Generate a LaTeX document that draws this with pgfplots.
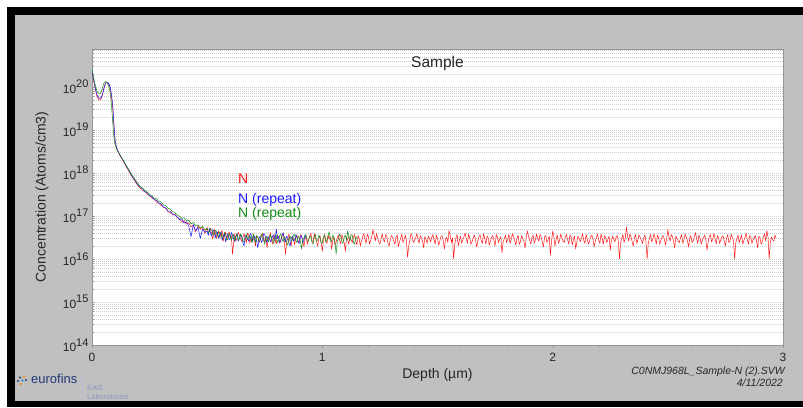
\documentclass[border=0pt]{standalone}
\usepackage{fontspec}
\setmainfont{Liberation Sans}
\usepackage{pgfplots}
\pgfplotsset{compat=1.18}

\definecolor{framegray}{RGB}{192,192,192}
\definecolor{axisgray}{RGB}{150,150,150}
\definecolor{gridgray}{RGB}{205,205,205}
\definecolor{nred}{RGB}{255,25,25}
\definecolor{nblue}{RGB}{25,25,255}
\definecolor{ngreen}{RGB}{20,140,20}
\definecolor{eurofblue}{RGB}{35,55,120}
\definecolor{eaggray}{RGB}{140,150,195}

% decade label, superscript nearly as large as the base
\newcommand{\dec}[1]{10\raisebox{0.45em}{\fontsize{11}{11}\selectfont #1}}

\begin{document}
\begin{tikzpicture}
\useasboundingbox (0pt,0pt) rectangle (803pt,407pt);
\fill[white] (0pt,0pt) rectangle (803pt,407pt);
\fill[black] (7pt,0pt) rectangle (803pt,400pt);
\fill[framegray] (15pt,6pt) rectangle (803pt,392pt);

\begin{axis}[
    at={(92pt,62pt)}, anchor=south west,
    width=691pt, height=296pt, scale only axis,
    ymode=log,
    xmin=0, xmax=3,
    ymin=1e14, ymax=7.6e20,
    axis background/.style={fill=white},
    axis line style={draw=axisgray, line width=0.8pt},
    tick pos=left,
    xtick={0,1,2,3},
    minor xtick={0.2,0.4,0.6,0.8,1.2,1.4,1.6,1.8,2.2,2.4,2.6,2.8},
    xtick align=outside,
    ytick={1e14,1e15,1e16,1e17,1e18,1e19,1e20},
    yticklabels={\dec{14},\dec{15},\dec{16},\dec{17},\dec{18},\dec{19},\dec{20}},
    minor ytick={2e14,3e14,4e14,5e14,6e14,7e14,8e14,9e14,
                 2e15,3e15,4e15,5e15,6e15,7e15,8e15,9e15,
                 2e16,3e16,4e16,5e16,6e16,7e16,8e16,9e16,
                 2e17,3e17,4e17,5e17,6e17,7e17,8e17,9e17,
                 2e18,3e18,4e18,5e18,6e18,7e18,8e18,9e18,
                 2e19,3e19,4e19,5e19,6e19,7e19,8e19,9e19,
                 2e20,3e20,4e20,5e20,6e20,7e20},
    ytick align=inside,
    major tick length=3pt, minor tick length=2pt,
    tick style={draw=axisgray},
    ymajorgrids, yminorgrids,
    major grid style={draw=gridgray, dash pattern=on 1pt off 1pt, line width=0.5pt},
    minor grid style={draw=gridgray, dash pattern=on 1pt off 1pt, line width=0.5pt},
    tick label style={font=\fontsize{12}{14}\selectfont, text=black!85},
    xticklabel style={yshift=-2pt},
    /pgf/number format/assume math mode=true,
    xlabel={Depth (µm)},
    ylabel={Concentration (Atoms/cm3)},
    xlabel style={at={(axis description cs:0.5,-0.101)}, anchor=center, font=\fontsize{14}{16}\selectfont, text=black!85},
    ylabel style={at={(axis description cs:-0.0724,0.5)}, anchor=center, font=\fontsize{14}{16}\selectfont, text=black!85},
    title={Sample},
    title style={at={(axis description cs:0.5,0.932)}, anchor=center, font=\fontsize{15.5}{17}\selectfont, text=black!85},
    every axis plot/.append style={no markers, line width=0.5pt, line join=round},
]

% N
\addplot[nred] table[row sep=\\] {
0 2.3e20\\ 0.005 1.6e20\\ 0.01 1.15e20\\ 0.015 8.5e19\\ 0.02 6.5e19\\ 0.025 5.5e19\\ 0.03 5.0e19\\ 0.035 5.0e19\\
0.04 5.3e19\\ 0.045 6.3e19\\ 0.05 8.5e19\\ 0.055 1.1e20\\ 0.06 1.25e20\\ 0.065 1.28e20\\ 0.07 1.22e20\\ 0.075 1.1e20\\
0.08 8.8e19\\ 0.085 5.5e19\\ 0.09 3.2e19\\ 0.095 1.2e19\\ 0.1 5.5e18\\ 0.105 4.0e18\\ 0.11 3.3e18\\
0.12 2.6e18\\ 0.13 2.1e18\\ 0.14 1.7e18\\ 0.15 1.35e18\\ 0.16 1.1e18\\ 0.17 8.8e17\\ 0.18 7.3e17\\ 0.19 6.0e17\\
0.20 5.0e17\\ 0.21 4.4e17\\ 0.22 3.9e17\\ 0.23 3.7e17\\ 0.24 3.2e17\\ 0.25 3.0e17\\ 0.26 2.6e17\\ 0.27 2.5e17\\
0.28 2.1e17\\ 0.29 2.0e17\\ 0.30 1.75e17\\ 0.31 1.6e17\\ 0.32 1.5e17\\ 0.33 1.25e17\\ 0.34 1.2e17\\ 0.35 1.05e17\\
0.36 1.1e17\\ 0.37 9.0e16\\ 0.38 8.6e16\\ 0.39 7.2e16\\ 0.40 7.8e16\\ 0.41 6.5e16\\ 0.42 6.9e16\\ 0.43 5.6e16\\
0.44 6.1e16\\ 0.45 4.2e16\\ 0.46 5.8e16\\ 0.47 4.9e16\\ 0.48 5.5e16\\ 0.49 3.9e16\\
0.50 5.4e16\\ 0.505 3.9e16\\ 0.51 4.6e16\\ 0.515 5.2e16\\ 0.52 3.6e16\\ 0.525 2.9e16\\ 0.53 5.0e16\\ 0.535 4.2e16\\
0.54 3.0e16\\ 0.545 3.8e16\\ 0.55 4.5e16\\ 0.555 3.1e16\\ 0.56 4.0e16\\ 0.565 4.6e16\\ 0.57 2.6e16\\ 0.575 3.4e16\\
0.58 4.2e16\\ 0.585 2.7e16\\ 0.59 3.6e16\\ 0.595 4.3e16\\ 0.60 3.1e16\\ 0.605 3.5e16\\ 0.61 1.3e16\\ 0.615 2.4e16\\
0.62 3.9e16\\ 0.625 2.6e16\\ 0.63 3.1e16\\ 0.635 4.2e16\\ 0.64 3.6e16\\ 0.645 2.9e16\\ 0.65 2.6e16\\ 0.655 3.2e16\\
0.66 3.9e16\\ 0.665 3.1e16\\ 0.67 2.4e16\\ 0.675 4.0e16\\ 0.68 3.6e16\\ 0.685 2.3e16\\ 0.69 3.0e16\\ 0.695 2.6e16\\
0.70 3.6e16\\ 0.705 2.9e16\\ 0.71 2.0e16\\ 0.715 3.5e16\\ 0.72 3.2e16\\ 0.725 2.4e16\\ 0.73 2.7e16\\ 0.735 3.3e16\\
0.74 3.9e16\\ 0.745 3.0e16\\ 0.75 2.5e16\\ 0.755 3.4e16\\ 0.76 1.8e16\\ 0.765 2.7e16\\ 0.77 3.3e16\\ 0.775 4.1e16\\
0.78 2.6e16\\ 0.785 2.2e16\\ 0.79 3.7e16\\ 0.795 2.9e16\\ 0.80 2.2e16\\ 0.805 3.6e16\\ 0.81 3.1e16\\ 0.815 2.3e16\\
0.82 2.8e16\\ 0.825 3.4e16\\ 0.83 3.9e16\\ 0.835 2.6e16\\ 0.84 1.3e16\\ 0.845 2.5e16\\ 0.85 3.0e16\\ 0.855 3.8e16\\
0.86 2.5e16\\ 0.865 2.0e16\\ 0.87 3.4e16\\ 0.875 2.9e16\\ 0.88 2.1e16\\ 0.885 3.2e16\\ 0.89 3.6e16\\ 0.895 2.4e16\\
0.90 2.7e16\\ 0.905 3.7e16\\ 0.91 3.3e16\\ 0.915 2.8e16\\ 0.92 1.9e16\\ 0.925 2.9e16\\ 0.93 3.2e16\\ 0.935 2.2e16\\
0.94 2.8e16\\ 0.945 3.3e16\\ 0.95 4.0e16\\ 0.955 2.7e16\\ 0.96 2.4e16\\ 0.965 3.9e16\\ 0.97 3.1e16\\ 0.975 2.5e16\\
0.98 2.0e16\\ 0.985 3.0e16\\ 0.99 3.5e16\\ 0.995 2.4e16\\ 1.00 1.5e16\\ 1.005 2.8e16\\ 1.01 3.8e16\\ 1.015 2.6e16\\
1.02 2.3e16\\ 1.025 3.6e16\\ 1.03 2.9e16\\ 1.035 3.3e16\\ 1.04 1.7e16\\ 1.045 2.6e16\\ 1.05 3.2e16\\ 1.055 2.1e16\\
1.06 2.5e16\\ 1.065 3.1e16\\ 1.07 3.6e16\\ 1.075 2.7e16\\ 1.08 2.2e16\\ 1.085 3.7e16\\ 1.09 3.0e16\\ 1.095 2.4e16\\
1.10 1.5e16\\ 1.105 3.2e16\\ 1.11 2.8e16\\ 1.115 2.2e16\\ 1.12 3.4e16\\ 1.125 2.8e16\\ 1.13 2.4e16\\ 1.135 3.2e16\\
1.14 3.7e16\\ 1.145 2.6e16\\ 1.15 2.1e16\\ 1.155 3.5e16\\ 1.16 3.0e16\\ 1.165 2.0e16\\ 1.17 2.6e16\\ 1.175 3.3e16\\
1.18 3.9e16\\ 1.185 2.9e16\\ 1.19 2.3e16\\ 1.195 3.8e16\\ 1.20 3.3e16\\ 1.205 2.2e16\\ 1.21 2.7e16\\ 1.215 3.4e16\\
1.22 4.8e16\\ 1.225 3.5e16\\ 1.23 2.6e16\\ 1.235 3.9e16\\ 1.24 3.1e16\\ 1.245 2.5e16\\ 1.25 2.2e16\\ 1.255 3.0e16\\
1.26 3.8e16\\ 1.265 2.8e16\\ 1.27 2.5e16\\ 1.275 3.7e16\\ 1.28 3.4e16\\ 1.285 2.3e16\\ 1.29 2.0e16\\ 1.295 2.9e16\\
1.30 3.5e16\\ 1.305 3.2e16\\ 1.31 2.6e16\\ 1.315 2.2e16\\ 1.32 3.2e16\\ 1.325 3.6e16\\ 1.33 1.9e16\\ 1.335 2.5e16\\
1.34 3.0e16\\ 1.345 3.8e16\\ 1.35 2.4e16\\ 1.355 2.9e16\\ 1.36 3.6e16\\ 1.365 2.7e16\\ 1.37 1.1e16\\ 1.375 2.0e16\\
1.38 2.8e16\\ 1.385 3.9e16\\ 1.39 3.3e16\\ 1.395 2.4e16\\ 1.40 2.7e16\\ 1.405 3.1e16\\ 1.41 3.9e16\\ 1.415 2.9e16\\
1.42 2.3e16\\ 1.425 3.5e16\\ 1.43 3.1e16\\ 1.435 2.6e16\\ 1.44 1.8e16\\ 1.445 3.3e16\\ 1.45 2.9e16\\ 1.455 2.3e16\\
1.46 3.4e16\\ 1.465 3.0e16\\ 1.47 2.5e16\\ 1.475 3.2e16\\ 1.48 3.7e16\\ 1.485 2.8e16\\ 1.49 2.2e16\\ 1.495 3.6e16\\
1.50 3.0e16\\ 1.505 2.1e16\\ 1.51 2.6e16\\ 1.515 3.3e16\\ 1.52 3.5e16\\ 1.525 2.7e16\\ 1.53 1.7e16\\ 1.535 2.9e16\\
1.54 3.2e16\\ 1.545 2.4e16\\ 1.55 4.6e16\\ 1.555 3.6e16\\ 1.56 2.4e16\\ 1.565 3.1e16\\ 1.57 1.0e16\\ 1.575 2.2e16\\
1.58 3.1e16\\ 1.585 3.7e16\\ 1.59 2.0e16\\ 1.595 2.7e16\\ 1.60 3.4e16\\ 1.605 2.3e16\\ 1.61 2.8e16\\ 1.615 3.3e16\\
1.62 4.0e16\\ 1.625 3.0e16\\ 1.63 2.3e16\\ 1.635 3.8e16\\ 1.64 3.0e16\\ 1.645 2.2e16\\ 1.65 2.5e16\\ 1.655 3.1e16\\
1.66 3.6e16\\ 1.665 2.8e16\\ 1.67 1.9e16\\ 1.675 2.6e16\\ 1.68 3.3e16\\ 1.685 3.6e16\\ 1.69 2.7e16\\ 1.695 2.3e16\\
1.70 3.9e16\\ 1.705 3.0e16\\ 1.71 2.2e16\\ 1.715 3.4e16\\ 1.72 3.1e16\\ 1.725 2.1e16\\ 1.73 2.6e16\\ 1.735 3.2e16\\
1.74 3.5e16\\ 1.745 2.7e16\\ 1.75 2.0e16\\ 1.755 3.7e16\\ 1.76 3.2e16\\ 1.765 2.4e16\\ 1.77 2.9e16\\ 1.775 3.3e16\\
1.78 1.4e16\\ 1.785 2.5e16\\ 1.79 3.0e16\\ 1.795 3.6e16\\ 1.80 2.4e16\\ 1.805 2.9e16\\ 1.81 3.7e16\\ 1.815 2.3e16\\
1.82 2.8e16\\ 1.825 3.9e16\\ 1.83 3.3e16\\ 1.835 2.7e16\\ 1.84 2.1e16\\ 1.845 3.0e16\\ 1.85 3.6e16\\ 1.855 2.2e16\\
1.86 2.5e16\\ 1.865 3.5e16\\ 1.87 3.0e16\\ 1.875 2.6e16\\ 1.88 1.8e16\\ 1.885 3.1e16\\ 1.89 4.5e16\\ 1.895 3.4e16\\
1.90 2.7e16\\ 1.905 2.2e16\\ 1.91 3.1e16\\ 1.915 3.6e16\\ 1.92 2.3e16\\ 1.925 2.8e16\\ 1.93 3.8e16\\ 1.935 3.0e16\\
1.94 2.6e16\\ 1.945 3.7e16\\ 1.95 3.2e16\\ 1.955 2.5e16\\ 1.96 1.9e16\\ 1.965 3.3e16\\ 1.97 3.5e16\\ 1.975 2.4e16\\
1.98 2.8e16\\ 1.985 3.4e16\\ 1.99 1.2e16\\ 1.995 2.6e16\\ 2.00 4.4e16\\ 2.005 3.3e16\\ 2.01 2.0e16\\ 2.015 2.9e16\\
2.02 3.6e16\\ 2.025 2.3e16\\ 2.03 2.7e16\\ 2.035 3.8e16\\ 2.04 3.1e16\\ 2.045 2.6e16\\ 2.05 2.4e16\\ 2.055 3.2e16\\
2.06 3.7e16\\ 2.065 2.8e16\\ 2.07 2.2e16\\ 2.075 3.6e16\\ 2.08 3.3e16\\ 2.085 2.1e16\\ 2.09 2.8e16\\ 2.095 3.4e16\\
2.10 1.7e16\\ 2.105 2.5e16\\ 2.11 3.4e16\\ 2.115 3.0e16\\ 2.12 2.5e16\\ 2.125 3.1e16\\ 2.13 3.9e16\\ 2.135 2.7e16\\
2.14 2.3e16\\ 2.145 3.7e16\\ 2.15 3.0e16\\ 2.155 2.2e16\\ 2.16 2.6e16\\ 2.165 3.3e16\\ 2.17 3.6e16\\ 2.175 2.9e16\\
2.18 1.9e16\\ 2.185 2.6e16\\ 2.19 3.2e16\\ 2.195 3.8e16\\ 2.20 2.7e16\\ 2.205 2.3e16\\ 2.21 3.8e16\\ 2.215 3.0e16\\
2.22 2.2e16\\ 2.225 3.5e16\\ 2.23 3.1e16\\ 2.235 2.4e16\\ 2.24 2.9e16\\ 2.245 3.4e16\\ 2.25 1.6e16\\ 2.255 2.7e16\\
2.26 3.4e16\\ 2.265 2.9e16\\ 2.27 2.5e16\\ 2.275 3.2e16\\ 2.28 3.5e16\\ 2.285 2.6e16\\ 2.29 1.0e16\\ 2.295 2.4e16\\
2.30 3.0e16\\ 2.305 3.7e16\\ 2.31 2.4e16\\ 2.315 3.0e16\\ 2.32 5.5e16\\ 2.325 3.4e16\\ 2.33 2.6e16\\ 2.335 3.8e16\\
2.34 3.3e16\\ 2.345 2.5e16\\ 2.35 2.0e16\\ 2.355 3.1e16\\ 2.36 3.7e16\\ 2.365 2.3e16\\ 2.37 2.8e16\\ 2.375 3.6e16\\
2.38 3.2e16\\ 2.385 2.7e16\\ 2.39 2.3e16\\ 2.395 3.0e16\\ 2.40 3.6e16\\ 2.405 2.6e16\\ 2.41 1.0e16\\ 2.415 2.3e16\\
2.42 3.0e16\\ 2.425 3.7e16\\ 2.43 2.5e16\\ 2.435 2.9e16\\ 2.44 3.9e16\\ 2.445 3.0e16\\ 2.45 2.2e16\\ 2.455 3.6e16\\
2.46 3.1e16\\ 2.465 2.2e16\\ 2.47 2.7e16\\ 2.475 3.3e16\\ 2.48 3.5e16\\ 2.485 2.8e16\\ 2.49 2.1e16\\ 2.495 3.0e16\\
2.50 4.8e16\\ 2.505 3.2e16\\ 2.51 2.6e16\\ 2.515 3.7e16\\ 2.52 3.3e16\\ 2.525 2.5e16\\ 2.53 1.8e16\\ 2.535 3.4e16\\
2.54 3.0e16\\ 2.545 2.6e16\\ 2.55 2.4e16\\ 2.555 3.1e16\\ 2.56 3.7e16\\ 2.565 2.3e16\\ 2.57 2.8e16\\ 2.575 3.8e16\\
2.58 3.2e16\\ 2.585 2.7e16\\ 2.59 1.9e16\\ 2.595 3.0e16\\ 2.60 3.5e16\\ 2.605 2.4e16\\ 2.61 2.6e16\\ 2.615 3.3e16\\
2.62 4.1e16\\ 2.625 2.9e16\\ 2.63 2.3e16\\ 2.635 3.6e16\\ 2.64 3.0e16\\ 2.645 2.2e16\\ 2.65 2.7e16\\ 2.655 3.2e16\\
2.66 3.6e16\\ 2.665 2.8e16\\ 2.67 1.6e16\\ 2.675 2.5e16\\ 2.68 3.3e16\\ 2.685 3.7e16\\ 2.69 2.5e16\\ 2.695 2.9e16\\
2.70 3.9e16\\ 2.705 3.0e16\\ 2.71 2.2e16\\ 2.715 3.5e16\\ 2.72 3.1e16\\ 2.725 2.3e16\\ 2.73 2.8e16\\ 2.735 3.3e16\\
2.74 3.4e16\\ 2.745 2.6e16\\ 2.75 2.0e16\\ 2.755 3.1e16\\ 2.76 3.7e16\\ 2.765 2.4e16\\ 2.77 2.6e16\\ 2.775 3.8e16\\
2.78 3.2e16\\ 2.785 2.7e16\\ 2.79 1.0e16\\ 2.795 2.4e16\\ 2.80 3.0e16\\ 2.805 3.6e16\\ 2.81 2.4e16\\ 2.815 2.9e16\\
2.82 3.6e16\\ 2.825 2.2e16\\ 2.83 2.7e16\\ 2.835 3.2e16\\ 2.84 4.0e16\\ 2.845 2.8e16\\ 2.85 2.2e16\\ 2.855 3.5e16\\
2.86 3.3e16\\ 2.865 2.3e16\\ 2.87 2.8e16\\ 2.875 3.1e16\\ 2.88 3.5e16\\ 2.885 2.6e16\\ 2.89 1.8e16\\ 2.895 3.4e16\\
2.90 3.1e16\\ 2.905 2.2e16\\ 2.91 2.5e16\\ 2.915 3.3e16\\ 2.92 3.8e16\\ 2.925 2.6e16\\ 2.93 4.6e16\\ 2.935 3.2e16\\
2.94 1.0e16\\ 2.945 2.5e16\\ 2.95 3.2e16\\ 2.955 2.8e16\\ 2.96 2.6e16\\ 2.965 3.6e16\\ 2.97 3.0e16\\
};

% N (repeat), blue
\addplot[nblue] table[row sep=\\] {
0 2.4e20\\ 0.005 1.7e20\\ 0.01 1.2e20\\ 0.015 9.0e19\\ 0.02 7.0e19\\ 0.025 6.0e19\\ 0.03 5.5e19\\ 0.035 5.4e19\\
0.04 5.7e19\\ 0.045 6.6e19\\ 0.05 8.5e19\\ 0.055 1.05e20\\ 0.06 1.22e20\\ 0.065 1.3e20\\ 0.07 1.25e20\\ 0.075 1.15e20\\
0.08 9.5e19\\ 0.085 6.5e19\\ 0.09 3.8e19\\ 0.095 1.4e19\\ 0.1 6.0e18\\ 0.105 4.3e18\\ 0.11 3.5e18\\
0.12 2.7e18\\ 0.13 2.2e18\\ 0.14 1.75e18\\ 0.15 1.4e18\\ 0.16 1.15e18\\ 0.17 9.2e17\\ 0.18 7.6e17\\ 0.19 6.3e17\\
0.20 5.3e17\\ 0.21 4.5e17\\ 0.22 4.3e17\\ 0.23 3.6e17\\ 0.24 3.5e17\\ 0.25 2.9e17\\ 0.26 2.8e17\\ 0.27 2.4e17\\
0.28 2.3e17\\ 0.29 2.0e17\\ 0.30 1.9e17\\ 0.31 1.6e17\\ 0.32 1.55e17\\ 0.33 1.3e17\\ 0.34 1.3e17\\ 0.35 1.1e17\\
0.36 1.05e17\\ 0.37 9.5e16\\ 0.38 8.2e16\\ 0.39 8.5e16\\ 0.40 6.8e16\\ 0.41 7.3e16\\ 0.42 5.9e16\\ 0.43 3.3e16\\
0.44 6.3e16\\ 0.45 4.5e16\\ 0.46 5.5e16\\ 0.47 3.0e16\\ 0.48 4.9e16\\ 0.49 4.2e16\\
0.50 4.4e16\\ 0.505 3.5e16\\ 0.51 5.1e16\\ 0.515 3.8e16\\ 0.52 3.4e16\\ 0.525 4.7e16\\ 0.53 4.6e16\\ 0.535 3.1e16\\
0.54 3.8e16\\ 0.545 4.2e16\\ 0.55 3.0e16\\ 0.555 3.6e16\\ 0.56 4.3e16\\ 0.565 2.7e16\\ 0.57 3.4e16\\ 0.575 4.0e16\\
0.58 2.5e16\\ 0.585 3.2e16\\ 0.59 3.9e16\\ 0.595 2.8e16\\ 0.60 3.0e16\\ 0.605 4.1e16\\ 0.61 3.6e16\\ 0.615 2.9e16\\
0.62 2.5e16\\ 0.625 3.4e16\\ 0.63 3.9e16\\ 0.635 2.6e16\\ 0.64 3.0e16\\ 0.645 3.7e16\\ 0.65 3.2e16\\ 0.655 2.4e16\\
0.66 2.0e16\\ 0.665 3.1e16\\ 0.67 3.5e16\\ 0.675 2.9e16\\ 0.68 2.6e16\\ 0.685 3.6e16\\ 0.69 4.0e16\\ 0.695 2.5e16\\
0.70 2.8e16\\ 0.705 3.4e16\\ 0.71 3.1e16\\ 0.715 2.6e16\\ 0.72 1.8e16\\ 0.725 2.9e16\\ 0.73 3.4e16\\ 0.735 2.4e16\\
0.74 2.7e16\\ 0.745 3.9e16\\ 0.75 3.7e16\\ 0.755 2.8e16\\ 0.76 2.4e16\\ 0.765 3.3e16\\ 0.77 3.0e16\\ 0.775 2.5e16\\
0.78 2.9e16\\ 0.785 3.5e16\\ 0.79 3.6e16\\ 0.795 2.7e16\\ 0.80 5.0e16\\ 0.805 3.0e16\\ 0.81 3.3e16\\ 0.815 2.4e16\\
0.82 2.6e16\\ 0.825 3.6e16\\ 0.83 4.1e16\\ 0.835 2.9e16\\ 0.84 2.5e16\\ 0.845 3.4e16\\ 0.85 3.2e16\\ 0.855 2.3e16\\
0.86 2.0e16\\ 0.865 3.0e16\\ 0.87 3.4e16\\ 0.875 2.6e16\\ 0.88 2.8e16\\ 0.885 3.7e16\\ 0.89 3.1e16\\ 0.895 2.5e16\\
0.90 2.3e16\\ 0.905 3.2e16\\ 0.91 3.5e16\\ 0.915 2.4e16\\ 0.92 2.7e16\\ 0.925 3.6e16\\ 0.93 3.0e16\\
};

% N (repeat), green
\addplot[ngreen] table[row sep=\\] {
0 2.6e20\\ 0.005 1.9e20\\ 0.01 1.4e20\\ 0.015 1.05e20\\ 0.02 8.5e19\\ 0.025 7.4e19\\ 0.03 7.0e19\\ 0.035 7.0e19\\
0.04 7.6e19\\ 0.045 9.3e19\\ 0.05 1.15e20\\ 0.055 1.3e20\\ 0.06 1.32e20\\ 0.065 1.25e20\\ 0.07 1.12e20\\ 0.075 9.5e19\\
0.08 6.5e19\\ 0.085 3.5e19\\ 0.09 1.5e19\\ 0.095 7.0e18\\ 0.1 4.6e18\\ 0.105 3.8e18\\ 0.11 3.3e18\\
0.12 2.7e18\\ 0.13 2.2e18\\ 0.14 1.8e18\\ 0.15 1.45e18\\ 0.16 1.2e18\\ 0.17 9.6e17\\ 0.18 8.0e17\\ 0.19 6.6e17\\
0.20 5.6e17\\ 0.21 4.8e17\\ 0.22 4.4e17\\ 0.23 3.9e17\\ 0.24 3.6e17\\ 0.25 3.1e17\\ 0.26 3.0e17\\ 0.27 2.6e17\\
0.28 2.5e17\\ 0.29 2.2e17\\ 0.30 2.1e17\\ 0.31 1.8e17\\ 0.32 1.75e17\\ 0.33 1.5e17\\ 0.34 1.45e17\\ 0.35 1.25e17\\
0.36 1.2e17\\ 0.37 1.05e17\\ 0.38 9.8e16\\ 0.39 8.8e16\\ 0.40 9.0e16\\ 0.41 7.7e16\\ 0.42 7.9e16\\ 0.43 6.6e16\\
0.44 7.0e16\\ 0.45 5.9e16\\ 0.46 6.2e16\\ 0.47 5.3e16\\ 0.48 5.7e16\\ 0.49 4.7e16\\
0.50 5.2e16\\ 0.505 4.1e16\\ 0.51 4.3e16\\ 0.515 5.0e16\\ 0.52 4.9e16\\ 0.525 3.7e16\\ 0.53 3.6e16\\ 0.535 4.6e16\\
0.54 4.4e16\\ 0.545 3.4e16\\ 0.55 3.3e16\\ 0.555 4.2e16\\ 0.56 4.0e16\\ 0.565 3.0e16\\ 0.57 3.1e16\\ 0.575 4.1e16\\
0.58 3.8e16\\ 0.585 2.8e16\\ 0.59 2.9e16\\ 0.595 3.9e16\\ 0.60 3.6e16\\ 0.605 2.7e16\\ 0.61 3.2e16\\ 0.615 3.7e16\\
0.62 2.6e16\\ 0.625 3.3e16\\ 0.63 3.9e16\\ 0.635 2.7e16\\ 0.64 3.0e16\\ 0.645 3.8e16\\ 0.65 3.4e16\\ 0.655 2.6e16\\
0.66 2.5e16\\ 0.665 3.4e16\\ 0.67 3.7e16\\ 0.675 2.9e16\\ 0.68 3.1e16\\ 0.685 3.6e16\\ 0.69 2.8e16\\ 0.695 2.4e16\\
0.70 3.9e16\\ 0.705 3.0e16\\ 0.71 2.4e16\\ 0.715 3.5e16\\ 0.72 3.3e16\\ 0.725 2.6e16\\ 0.73 2.9e16\\ 0.735 3.8e16\\
0.74 3.6e16\\ 0.745 2.7e16\\ 0.75 2.2e16\\ 0.755 3.1e16\\ 0.76 3.4e16\\ 0.765 2.5e16\\ 0.77 2.8e16\\ 0.775 3.6e16\\
0.78 3.1e16\\ 0.785 2.6e16\\ 0.79 2.3e16\\ 0.795 3.2e16\\ 0.80 3.5e16\\ 0.805 2.4e16\\ 0.81 2.7e16\\ 0.815 3.5e16\\
0.82 3.8e16\\ 0.825 2.9e16\\ 0.83 2.5e16\\ 0.835 3.3e16\\ 0.84 3.0e16\\ 0.845 2.4e16\\ 0.85 2.1e16\\ 0.855 3.0e16\\
0.86 3.4e16\\ 0.865 2.6e16\\ 0.87 2.8e16\\ 0.875 3.7e16\\ 0.88 3.6e16\\ 0.885 2.7e16\\ 0.89 2.4e16\\ 0.895 3.4e16\\
0.90 3.2e16\\ 0.905 2.5e16\\ 0.91 1.7e16\\ 0.915 2.8e16\\ 0.92 3.0e16\\ 0.925 3.7e16\\ 0.93 3.5e16\\ 0.935 2.6e16\\
0.94 2.6e16\\ 0.945 3.5e16\\ 0.95 3.3e16\\ 0.955 2.4e16\\ 0.96 2.2e16\\ 0.965 3.2e16\\ 0.97 3.7e16\\ 0.975 2.6e16\\
0.98 2.8e16\\ 0.985 3.6e16\\ 0.99 3.1e16\\ 0.995 2.3e16\\ 1.00 2.4e16\\ 1.005 3.3e16\\ 1.01 3.6e16\\ 1.015 2.5e16\\
1.02 2.7e16\\ 1.025 3.5e16\\ 1.03 4.3e16\\ 1.035 2.8e16\\ 1.04 2.5e16\\ 1.045 3.6e16\\ 1.05 3.2e16\\ 1.055 2.4e16\\
1.06 1.3e16\\ 1.065 2.6e16\\ 1.07 2.9e16\\ 1.075 3.8e16\\ 1.08 3.4e16\\ 1.085 2.5e16\\ 1.09 2.3e16\\ 1.095 3.2e16\\
1.10 3.6e16\\ 1.105 2.7e16\\ 1.11 4.6e16\\ 1.115 3.0e16\\ 1.12 2.6e16\\ 1.125 3.7e16\\ 1.13 3.5e16\\ 1.135 2.4e16\\
1.14 2.2e16\\ 1.145 3.3e16\\ 1.15 3.0e16\\
};

\node[anchor=west, inner sep=0pt, text=nred, font=\fontsize{14}{16}\selectfont] at (axis cs:0.634,7.2e17) {N};
\node[anchor=west, inner sep=0pt, text=nblue, font=\fontsize{14}{16}\selectfont] at (axis cs:0.634,2.3e17) {N (repeat)};
\node[anchor=west, inner sep=0pt, text=ngreen, font=\fontsize{14}{16}\selectfont] at (axis cs:0.634,1.1e17) {N (repeat)};
\end{axis}

% footer
\node[anchor=east, inner sep=0pt, text=black!85, font=\fontsize{10.5}{12}\itshape\selectfont] at (785pt,35pt) {C0NMJ968L\_Sample-N (2).SVW};
\node[anchor=east, inner sep=0pt, text=black!85, font=\fontsize{10.5}{12}\itshape\selectfont] at (783pt,24.5pt) {4/11/2022};

% eurofins logo
\fill[eurofblue] (20pt,29.5pt) circle (1.2pt);
\fill[orange] (24pt,30.5pt) circle (1.2pt);
\fill[eurofblue] (18pt,26pt) circle (1.2pt);
\fill[cyan!70!blue] (22.5pt,26.5pt) circle (1.2pt);
\fill[eurofblue] (26pt,27pt) circle (1.2pt);
\fill[orange] (21pt,23pt) circle (1.2pt);
\node[anchor=west, inner sep=0pt, text=eurofblue, font=\fontsize{13}{14}\selectfont] at (31pt,28pt) {eurofins};
\draw[eaggray!60, line width=0.6pt] (82pt,9pt) -- (82pt,30pt);
\node[anchor=west, inner sep=0pt, text=eaggray, font=\fontsize{7.5}{8}\selectfont] at (87pt,19pt) {EAG};
\node[anchor=west, inner sep=0pt, text=eaggray, font=\fontsize{7.5}{8}\selectfont] at (87pt,10pt) {Laboratories};
\end{tikzpicture}
\end{document}
